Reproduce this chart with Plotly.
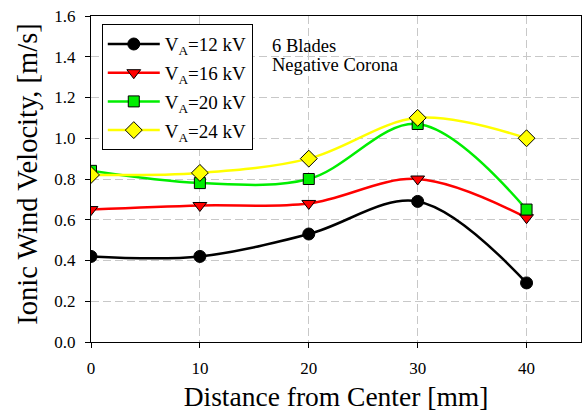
import plotly.graph_objects as go

distance = [0, 10, 20, 30, 40]
v12 = [0.42, 0.42, 0.53, 0.69, 0.29]
v16 = [0.65, 0.67, 0.68, 0.80, 0.61]
v20 = [0.84, 0.78, 0.80, 1.07, 0.65]
v24 = [0.82, 0.83, 0.90, 1.10, 1.00]
names = ["V<sub>A</sub>=12 kV", "V<sub>A</sub>=16 kV", "V<sub>A</sub>=20 kV", "V<sub>A</sub>=24 kV"]
note_lines = ["6 Blades", "Negative Corona"]
x_title = "Distance from Center [mm]"
y_title = "Ionic Wind Velocity, [m/s]"

SERIF = "Times New Roman, Liberation Serif, serif"

styles = [
    dict(color="black", symbol="circle", size=12),
    dict(color="red", symbol="triangle-down", size=12),
    dict(color="#00ee00", symbol="square", size=11),
    dict(color="yellow", symbol="diamond", size=13),
]

fig = go.Figure()
for i, (name, ys, st) in enumerate(zip(names, [v12, v16, v20, v24], styles)):
    fig.add_trace(go.Scatter(
        x=distance, y=ys, name=name, mode="lines+markers", legendgroup=f"g{i}",
        line=dict(color=st["color"], width=2.5, shape="spline", smoothing=1.0),
        marker=dict(color=st["color"], symbol=st["symbol"], size=st["size"],
                    line=dict(color="black", width=1)),
    ))

for j, txt in enumerate(note_lines):
    fig.add_annotation(x=0.365, y=0.907 - j * 0.058, xref="paper", yref="paper",
                       text=txt, showarrow=False,
                       xanchor="left", yanchor="middle", align="left",
                       font=dict(family=SERIF, size=18.5, color="black"))

# y-axis title placed as rotated annotation for exact positioning
fig.add_annotation(x=-0.13, y=0.517, xref="paper", yref="paper",
                   text=y_title, showarrow=False, textangle=-90,
                   xanchor="center", yanchor="middle",
                   font=dict(family=SERIF, size=28.5, color="black"))

GRID_DASH = "8px,4px"

fig.update_layout(
    width=583, height=417,
    margin=dict(l=91, r=2, t=16, b=75, autoexpand=False),
    paper_bgcolor="white", plot_bgcolor="white",
    font=dict(family=SERIF, color="black"),
    showlegend=True,
    legend=dict(x=0.022, y=0.975, xanchor="left", yanchor="top",
                bordercolor="black", borderwidth=1, bgcolor="white",
                font=dict(family=SERIF, size=19), tracegroupgap=1,
                itemwidth=52),
    xaxis=dict(range=[0, 45], tickvals=[0, 10, 20, 30, 40],
               showgrid=True, gridcolor="#c8c8c8", griddash=GRID_DASH, gridwidth=1,
               showline=True, linecolor="black", linewidth=1, mirror=True,
               ticks="outside", ticklen=5, tickcolor="black",
               tickfont=dict(family=SERIF, size=17), ticklabelstandoff=6,
               zeroline=False, automargin=False,
               title=dict(text=x_title,
                          font=dict(family=SERIF, size=27.5), standoff=9)),
    yaxis=dict(range=[0, 1.6], tickvals=[0, 0.2, 0.4, 0.6, 0.8, 1.0, 1.2, 1.4, 1.6],
               tickformat=".1f",
               showgrid=True, gridcolor="#c8c8c8", griddash=GRID_DASH, gridwidth=1,
               showline=True, linecolor="black", linewidth=1, mirror=True,
               ticks="outside", ticklen=5, tickcolor="black",
               tickfont=dict(family=SERIF, size=17), ticklabelstandoff=6,
               zeroline=False, automargin=False),
)

fig.write_html("out.html", config={"displayModeBar": False},
               post_script="document.body.style.margin='0';document.body.style.overflow='hidden';")
